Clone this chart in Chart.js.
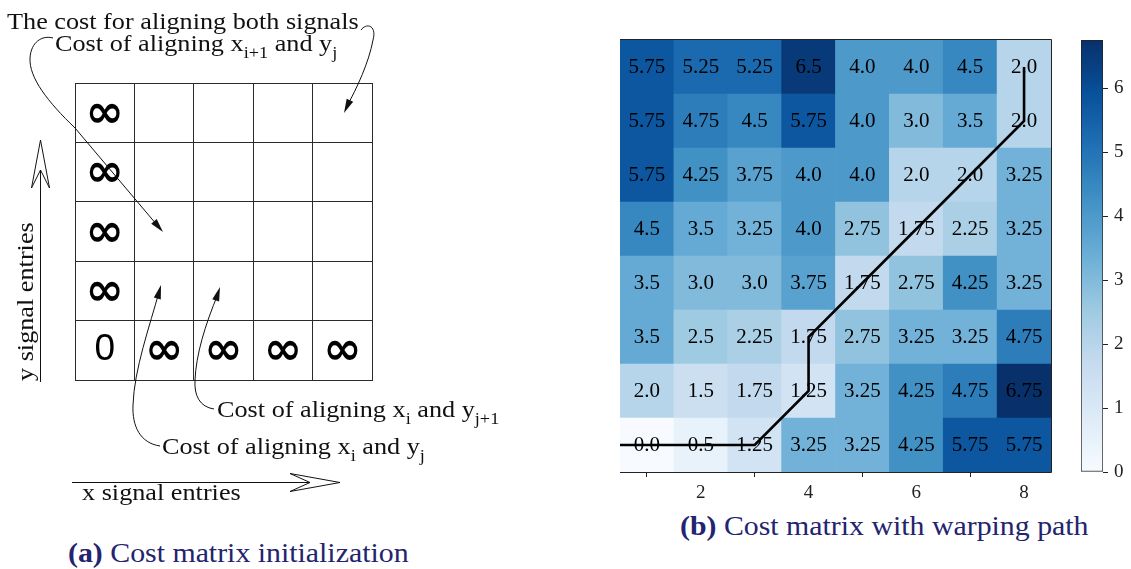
<!DOCTYPE html>
<html>
<head>
<meta charset="utf-8">
<script src="https://cdn.jsdelivr.net/npm/chart.js@4.4.1/dist/chart.umd.min.js"></script>
<style>
  html, body { margin: 0; padding: 0; background: #fff; }
  body { width: 1131px; height: 569px; position: relative; overflow: hidden; }
  canvas { position: absolute; }
  .cap { position: absolute; font-family: "Liberation Serif", serif; color: #23236f;
         font-size: 27px; line-height: 30px; white-space: nowrap;
         transform: scaleX(1.105); transform-origin: 0 0; }
  .cap b { font-weight: bold; }
</style>
</head>
<body>
<canvas id="initChart" width="560" height="520" style="left:0;top:0"></canvas>
<canvas id="costChart" width="460" height="510" style="left:600px;top:0"></canvas>
<canvas id="barChart" width="71" height="510" style="left:1060px;top:0"></canvas>
<div class="cap" style="left:68px;top:538px"><b>(a)</b> Cost matrix initialization</div>
<div class="cap" style="left:680px;top:511px"><b>(b)</b> Cost matrix with warping path</div>

<script>
// ---- (a) initial cost matrix: 5 x 5 grid, first row/column set to infinity ----
const initCols = [0, 1, 2, 3, 4, 0, 0, 0, 0];
const initRows = [0, 0, 0, 0, 0, 1, 2, 3, 4];
const initText = ['0', '\u221E', '\u221E', '\u221E', '\u221E', '\u221E', '\u221E', '\u221E', '\u221E'];

// ---- (b) accumulated cost matrix, listed from the top row (y = 8) down ----
const xCols = [1, 2, 3, 4, 5, 6, 7, 8];
const yRows = [8, 7, 6, 5, 4, 3, 2, 1];
const costMatrix = [
  [5.75, 5.25, 5.25, 6.5, 4.0, 4.0, 4.5, 2.0],
  [5.75, 4.75, 4.5, 5.75, 4.0, 3.0, 3.5, 2.0],
  [5.75, 4.25, 3.75, 4.0, 4.0, 2.0, 2.0, 3.25],
  [4.5, 3.5, 3.25, 4.0, 2.75, 1.75, 2.25, 3.25],
  [3.5, 3.0, 3.0, 3.75, 1.75, 2.75, 4.25, 3.25],
  [3.5, 2.5, 2.25, 1.75, 2.75, 3.25, 3.25, 4.75],
  [2.0, 1.5, 1.75, 1.25, 3.25, 4.25, 4.75, 6.75],
  [0.0, 0.5, 1.25, 3.25, 3.25, 4.25, 5.75, 5.75]
];
// warping path through the matrix
const pathX = [0, 1, 2, 3, 4, 4, 5, 6, 7, 8, 8];
const pathY = [1, 1, 1, 1, 2, 3, 4, 5, 6, 7, 8];
const xTicks = [2, 4, 6, 8];
const barTicks = [0, 1, 2, 3, 4, 5, 6];

const allCosts = costMatrix.flat();
const vmin = Math.min(...allCosts);
const vmax = Math.max(...allCosts);

// Blues colour map
const bluesStops = [
  [247, 251, 255], [222, 235, 247], [198, 219, 239], [158, 202, 225],
  [107, 174, 214], [66, 146, 198], [33, 113, 181], [8, 81, 156], [8, 48, 107]
];
function blues(t) {
  t = Math.max(0, Math.min(1, t));
  const s = t * (bluesStops.length - 1);
  const i = Math.min(Math.floor(s), bluesStops.length - 2);
  const f = s - i;
  const a = bluesStops[i], b = bluesStops[i + 1];
  const c = a.map((v, k) => Math.round(v + (b[k] - v) * f));
  return `rgb(${c[0]},${c[1]},${c[2]})`;
}
const fmt = v => Number.isInteger(v) ? v.toFixed(1) : String(v);

const SERIF = '"Liberation Serif", "Times New Roman", serif';
const INK = '#111';

// ---------- helpers for the annotation drawing ----------
// text with optional subscripts, slightly widened
function richText(ctx, parts, x, y) {
  ctx.save();
  ctx.translate(x, y);
  ctx.scale(1.14, 1);
  let cx = 0;
  parts.forEach(p => {
    ctx.font = p.sub ? `16px ${SERIF}` : `23px ${SERIF}`;
    ctx.fillText(p.t, cx, p.sub ? 7 : 0);
    cx += ctx.measureText(p.t).width;
  });
  ctx.restore();
}
function arrowHead(ctx, tx, ty, fx, fy, len = 14, half = 3.6) {
  const a = Math.atan2(ty - fy, tx - fx);
  const bx = tx - len * Math.cos(a), by = ty - len * Math.sin(a);
  ctx.beginPath();
  ctx.moveTo(tx, ty);
  ctx.lineTo(bx + half * Math.sin(a), by - half * Math.cos(a));
  ctx.lineTo(bx - half * Math.sin(a), by + half * Math.cos(a));
  ctx.closePath();
  ctx.fill();
}

const initLabels = {
  id: 'initLabels',
  afterDraw(chart) {
    const { ctx, scales: { x, y } } = chart;
    ctx.save();
    ctx.fillStyle = '#000';
    ctx.textAlign = 'center';
    ctx.textBaseline = 'alphabetic';
    initText.forEach((t, i) => {
      ctx.font = t === '0' ? '37px "Liberation Sans", Arial, sans-serif'
                           : 'bold 46px "DejaVu Sans", sans-serif';
      const m = ctx.measureText(t);
      const cx = x.getPixelForValue(initCols[i] + 0.5);
      const cy = y.getPixelForValue(initRows[i] + 0.5) + (t === '0' ? -3 : 0);
      ctx.fillText(t, cx, cy + (m.actualBoundingBoxAscent - m.actualBoundingBoxDescent) / 2);
    });
    ctx.restore();
  }
};

const initNotes = {
  id: 'initNotes',
  afterDraw(chart) {
    const ctx = chart.ctx;
    ctx.save();
    ctx.fillStyle = INK;
    ctx.strokeStyle = INK;
    ctx.textBaseline = 'alphabetic';
    ctx.textAlign = 'left';

    richText(ctx, [{ t: 'The cost for aligning both signals' }], 7, 29);
    richText(ctx, [{ t: 'Cost of aligning x' }, { t: 'i+1', sub: true }, { t: ' and y' }, { t: 'j', sub: true }], 55, 51);
    richText(ctx, [{ t: 'Cost of aligning x' }, { t: 'i', sub: true }, { t: ' and y' }, { t: 'j+1', sub: true }], 217, 417);
    richText(ctx, [{ t: 'Cost of aligning x' }, { t: 'i', sub: true }, { t: ' and y' }, { t: 'j', sub: true }], 162, 454);
    richText(ctx, [{ t: 'x signal entries' }], 82, 500);

    ctx.save();
    ctx.translate(33, 381);
    ctx.rotate(-Math.PI / 2);
    richText(ctx, [{ t: 'y signal entries' }], 0, 0);
    ctx.restore();

    ctx.lineWidth = 1;
    // curved pointer: both signals -> top right cell
    ctx.beginPath();
    ctx.moveTo(361, 30);
    ctx.bezierCurveTo(367, 22, 377, 26, 373, 40);
    ctx.bezierCurveTo(369, 62, 357, 88, 347, 106);
    ctx.stroke();
    arrowHead(ctx, 344, 113, 351, 98);

    // curved pointer: x_{i+1}, y_j
    ctx.beginPath();
    ctx.moveTo(53, 38);
    ctx.bezierCurveTo(42, 35, 31, 42, 30, 58);
    ctx.bezierCurveTo(29, 78, 48, 102, 75, 128);
    ctx.lineTo(157, 225);
    ctx.stroke();
    arrowHead(ctx, 163, 232, 75, 128);

    // curved pointer: x_i, y_{j+1}
    ctx.beginPath();
    ctx.moveTo(214, 409);
    ctx.bezierCurveTo(200, 407, 194, 396, 195, 380);
    ctx.bezierCurveTo(196, 355, 205, 325, 218, 294);
    ctx.stroke();
    arrowHead(ctx, 220, 287, 210, 318);

    // curved pointer: x_i, y_j
    ctx.beginPath();
    ctx.moveTo(160, 446);
    ctx.bezierCurveTo(140, 443, 132, 426, 133, 405);
    ctx.bezierCurveTo(134, 370, 150, 325, 159, 292);
    ctx.stroke();
    arrowHead(ctx, 161, 285, 152, 318);

    // axis direction arrows with open heads
    ctx.beginPath();
    ctx.moveTo(40.5, 382); ctx.lineTo(40.5, 170);
    ctx.moveTo(40.5, 140); ctx.lineTo(31.5, 188); ctx.lineTo(40.5, 170); ctx.lineTo(49.5, 188); ctx.closePath();
    ctx.moveTo(72, 482.5); ctx.lineTo(310, 482.5);
    ctx.moveTo(340, 482.5); ctx.lineTo(290, 473.5); ctx.lineTo(310, 482.5); ctx.lineTo(290, 491.5); ctx.closePath();
    ctx.stroke();
    ctx.restore();
  }
};

new Chart(document.getElementById('initChart'), {
  type: 'scatter',
  data: {
    datasets: [{
      data: initCols.map((c, i) => ({ x: c + 0.5, y: initRows[i] + 0.5 })),
      pointRadius: 0
    }]
  },
  options: {
    responsive: false,
    animation: false,
    events: [],
    layout: { padding: { left: 75, top: 83, right: 560 - 372, bottom: 520 - 380 } },
    plugins: { legend: { display: false }, tooltip: { enabled: false } },
    scales: {
      x: {
        type: 'linear', min: 0, max: 5,
        ticks: { display: false, stepSize: 1 },
        grid: { color: '#2a2a2a', lineWidth: 1, drawTicks: false },
        border: { color: '#2a2a2a', width: 1 },
        afterFit: s => { s.height = 0; }
      },
      y: {
        type: 'linear', min: 0, max: 5,
        ticks: { display: false, stepSize: 1 },
        grid: { color: '#2a2a2a', lineWidth: 1, drawTicks: false },
        border: { color: '#2a2a2a', width: 1 },
        afterFit: s => { s.width = 0; }
      }
    }
  },
  plugins: [initLabels, initNotes]
});

// ---------- (b) accumulated cost heat map ----------
const cellData = [];
const cellColors = [];
yRows.forEach((yv, r) => {
  xCols.forEach((xv, c) => {
    cellData.push({ x: xv, y: [yv - 0.5, yv + 0.5] });
    cellColors.push(blues((costMatrix[r][c] - vmin) / (vmax - vmin)));
  });
});

const cellText = {
  id: 'cellText',
  afterDatasetDraw(chart, args) {
    if (args.index !== 0) return;
    const { ctx, scales: { x, y } } = chart;
    ctx.fillStyle = '#000';
    ctx.font = `20px ${SERIF}`;
    ctx.textAlign = 'center';
    ctx.textBaseline = 'middle';
    yRows.forEach((yv, r) => {
      xCols.forEach((xv, c) => {
        ctx.save();
        ctx.translate(x.getPixelForValue(xv), y.getPixelForValue(yv) + 1);
        ctx.scale(1.05, 1);
        ctx.fillText(fmt(costMatrix[r][c]), 0, 0);
        ctx.restore();
      });
    });
  }
};

const frame = {
  id: 'frame',
  afterDraw(chart) {
    const { ctx, chartArea: a } = chart;
    ctx.save();
    ctx.strokeStyle = '#222';
    ctx.lineWidth = 1;
    ctx.beginPath();
    ctx.moveTo(a.left, a.top - 0.5); ctx.lineTo(a.right + 0.5, a.top - 0.5);
    ctx.lineTo(a.right + 0.5, a.bottom + 0.5); ctx.lineTo(a.left, a.bottom + 0.5);
    ctx.stroke();
    ctx.restore();
  }
};

new Chart(document.getElementById('costChart'), {
  type: 'bar',
  data: {
    datasets: [
      {
        data: cellData,
        backgroundColor: cellColors,
        borderWidth: 0,
        barPercentage: 1,
        categoryPercentage: 1,
        order: 1
      },
      {
        type: 'line',
        data: pathX.map((x, i) => ({ x, y: pathY[i] })),
        borderColor: '#000',
        borderWidth: 2.6,
        pointRadius: 0,
        tension: 0,
        fill: false,
        clip: 0,
        order: 0
      }
    ]
  },
  options: {
    responsive: false,
    animation: false,
    events: [],
    layout: { padding: { left: 20, top: 40, right: 9, bottom: 0 } },
    plugins: { legend: { display: false }, tooltip: { enabled: false } },
    scales: {
      x: {
        type: 'linear', min: 0.5, max: 8.5, offset: false,
        afterBuildTicks: s => { s.ticks = xTicks.map(v => ({ value: v })); },
        afterFit: s => { s.height = 38; },
        grid: { drawOnChartArea: false, drawTicks: true, tickLength: 5, tickColor: '#222', tickWidth: 1 },
        border: { display: false },
        ticks: { padding: 5, color: '#222', maxRotation: 0, autoSkip: false,
                 font: { family: SERIF, size: 19 } }
      },
      y: { type: 'linear', min: 0.5, max: 8.5, display: false }
    }
  },
  plugins: [cellText, frame]
});

// ---------- colour bar ----------
new Chart(document.getElementById('barChart'), {
  type: 'bar',
  data: {
    labels: [''],
    datasets: [{
      data: [[vmin, vmax]],
      backgroundColor: c => {
        const a = c.chart.chartArea;
        if (!a) return blues(0.5);
        const g = c.chart.ctx.createLinearGradient(0, a.bottom, 0, a.top);
        bluesStops.forEach((s, i) => g.addColorStop(i / (bluesStops.length - 1), `rgb(${s[0]},${s[1]},${s[2]})`));
        return g;
      },
      borderColor: '#222',
      borderWidth: 1,
      borderSkipped: false,
      barPercentage: 1,
      categoryPercentage: 1
    }]
  },
  options: {
    responsive: false,
    animation: false,
    events: [],
    layout: { padding: { left: 21, top: 40, right: 0, bottom: 38 } },
    plugins: { legend: { display: false }, tooltip: { enabled: false } },
    scales: {
      x: { display: false },
      y: {
        position: 'right', min: vmin, max: vmax,
        afterBuildTicks: s => { s.ticks = barTicks.map(v => ({ value: v })); },
        afterFit: s => { s.width = 28; },
        grid: { drawOnChartArea: false, tickLength: 5, tickColor: '#222' },
        border: { display: false },
        ticks: { padding: 6, color: '#222', font: { family: SERIF, size: 19 } }
      }
    }
  }
});
</script>
</body>
</html>
